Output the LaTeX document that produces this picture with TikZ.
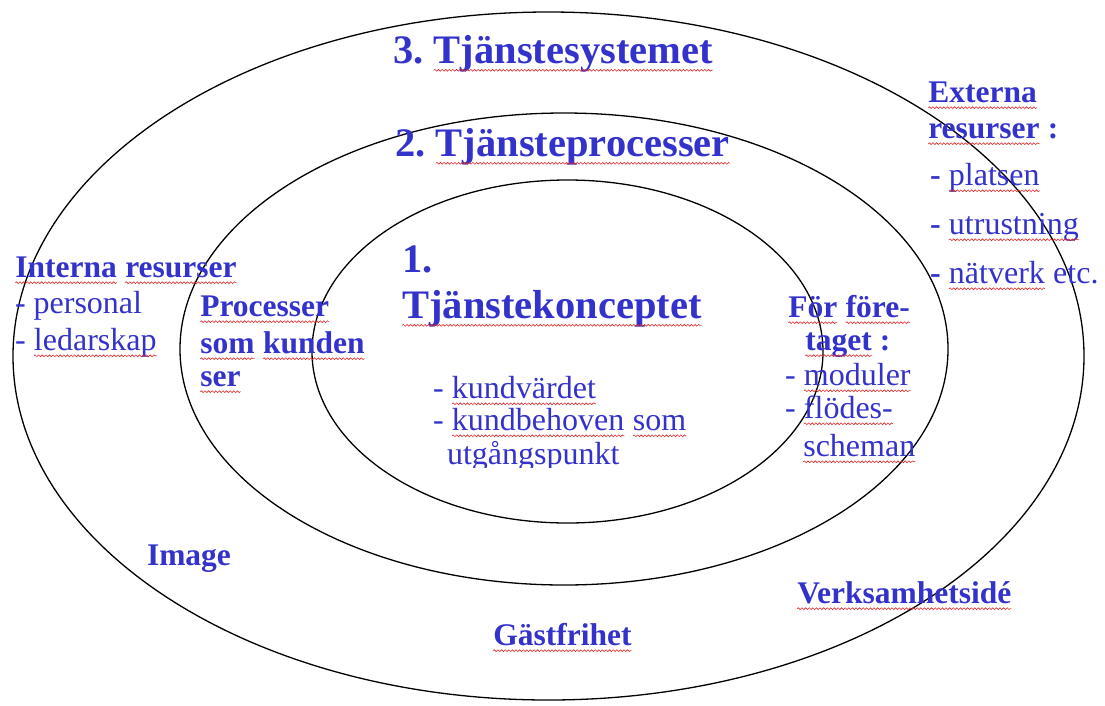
\documentclass[tikz,border=0pt]{standalone}
\usepackage{fontspec}
\setmainfont{Liberation Serif}
\usetikzlibrary{decorations.pathmorphing}
\definecolor{tblue}{RGB}{51,51,204}
\definecolor{sqred}{RGB}{225,40,40}
\frenchspacing
\tikzset{
  ring/.style={draw=black, line width=1.3pt},
  lbl/.style={anchor=base west, inner sep=0pt, outer sep=0pt, text=tblue},
  big/.style={lbl, font=\fontsize{40.5}{46}\selectfont\bfseries\frenchspacing},
  bld/.style={lbl, font=\fontsize{31.5}{36}\selectfont\bfseries\frenchspacing},
  reg/.style={lbl, font=\fontsize{32}{36}\selectfont\frenchspacing},
  sqline/.style={draw=sqred, line width=0.6pt, decorate,
    decoration={snake, amplitude=0.9pt, segment length=3.6pt}}
}
\newcommand\sq[1]{\tikz[baseline=(sqw.base)]{\node[inner sep=0pt,outer sep=0pt,anchor=base] (sqw) {#1};\draw[sqline] ([yshift=-0.18em]sqw.base west) -- ([yshift=-0.18em]sqw.base east);}}
\begin{document}
\begin{tikzpicture}[x=1pt,y=-1pt]
\useasboundingbox (0,0) rectangle (1105,705);
\fill[white] (0,0) rectangle (1105,705);
% rings
\draw[ring] (548.5,356) ellipse [x radius=535.5, y radius=344];
\draw[ring] (564,349) ellipse [x radius=384, y radius=236];
\draw[ring] (567.5,351.5) ellipse [x radius=255.5, y radius=171.5];
% titles
\node[big] (t3) at (393,63) {3. \sq{Tjänstesystemet}};
\node[big] (t2) at (395,156) {2. \sq{Tjänsteprocesser}};
\node[big] (t1a) at (402,272) {1.};
\node[big] (t1b) at (402,318) {\sq{Tjänstekonceptet}};
\node[reg] (k1) at (433,398) {- \sq{kundvärdet}};
\node[reg] (k2) at (433,430) {- \sq{kundbehoven} \sq{som}};
\begin{scope}
\clip (380,440) rectangle (720,467);
\node[reg] (k3) at (447,464) {utgångspunkt};
\end{scope}
% left
\node[bld] (ir) at (15,277) {\sq{Interna} \sq{resurser}};
\node[reg] (ir1) at (15,313) {- personal};
\node[reg] (ir2) at (15,350) {- \sq{ledarskap}};
\node[bld] (p1) at (200,316) {\sq{Processer}};
\node[bld] (p2) at (200,353) {\sq{som} \sq{kunden}};
\node[bld] (p3) at (200,386) {\sq{ser}};
% right inner
\node[bld] (f1) at (788,317) {\sq{För} \sq{före-}};
\node[bld] (f2) at (805,350) {\sq{taget} :};
\node[reg] (f3) at (785,385) {- \sq{moduler}};
\node[reg] (f4) at (785,418) {- \sq{flödes-}};
\node[reg] (f5) at (803,456) {\sq{scheman}};
% external
\node[bld] (x1) at (928,102) {\sq{Externa}};
\node[bld] (x2) at (928,138) {\sq{resurser} :};
\node[reg] (x3) at (930,185) {{\bfseries -} \sq{platsen}};
\node[reg] (x4) at (930,234) {{\bfseries -} \sq{utrustning}};
\node[reg] (x5) at (930,283) {{\bfseries -} \sq{nätverk} etc.};
% bottom
\node[bld] (im) at (147,565) {Image};
\node[bld] (gf) at (493,645) {\sq{Gästfrihet}};
\node[bld] (vs) at (797,603) {\sq{Verksamhetsidé}};
\end{tikzpicture}
\end{document}
